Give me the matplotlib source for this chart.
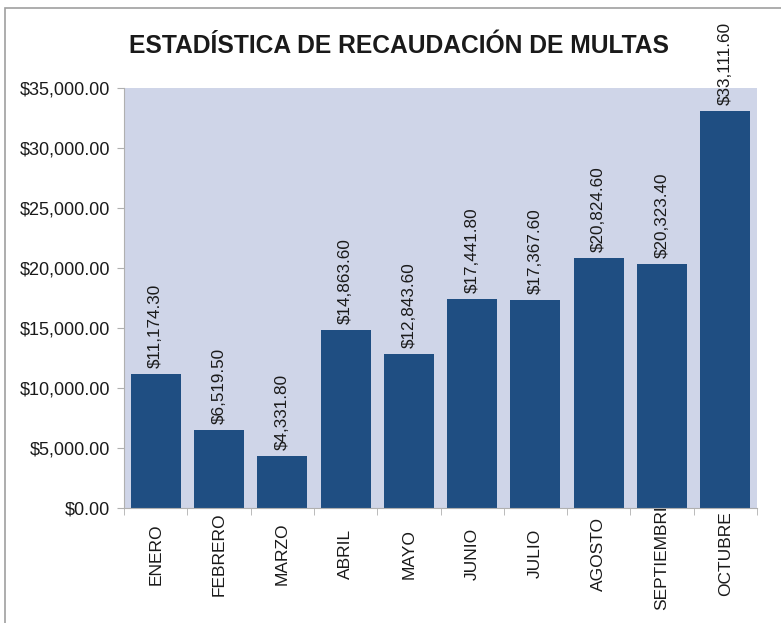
import matplotlib
matplotlib.use("Agg")
import matplotlib.pyplot as plt
from matplotlib.patches import Rectangle
from matplotlib.ticker import FuncFormatter, FixedLocator

months = ["ENERO", "FEBRERO", "MARZO", "ABRIL", "MAYO", "JUNIO",
          "JULIO", "AGOSTO", "SEPTIEMBRE", "OCTUBRE"]
amounts = [11174.30, 6519.50, 4331.80, 14863.60, 12843.60, 17441.80,
           17367.60, 20824.60, 20323.40, 33111.60]
y_ticks = [0, 5000, 10000, 15000, 20000, 25000, 30000, 35000]

plt.rcParams['font.family'] = ['Liberation Sans', 'DejaVu Sans']

fig = plt.figure(figsize=(7.81, 6.23), dpi=100)
ax = fig.add_axes([124 / 781, 115 / 623, 633 / 781, 420 / 623])

# outer chart frame
fig.patches.append(Rectangle((5 / 781, -0.1), 1.2, 1 - 8 / 623 + 0.1,
                             transform=fig.transFigure, fill=False,
                             edgecolor='#a0a0a0', linewidth=1.2))

bar_color = '#1f4e82'
ax.set_facecolor('#cfd5e8')
x = range(len(months))
ax.bar(x, amounts, width=0.79, color=bar_color, zorder=2)

for xi, v in zip(x, amounts):
    ax.text(xi, v + 500, "${:,.2f}".format(v), rotation=90, ha='center',
            va='bottom', fontsize=12.3, color='#1a1a1a', clip_on=False)

ax.set_xlim(-0.5, len(months) - 0.5)
ax.set_ylim(0, 35000)
ax.set_yticks(y_ticks)
ax.yaxis.set_major_formatter(FuncFormatter(lambda v, p: "${:,.2f}".format(v)))
ax.set_xticks(list(x))
ax.set_xticklabels(months, rotation=90, fontsize=12.5, color='#1a1a1a', va='center')
ax.tick_params(axis='x', length=0, pad=33)
ax.xaxis.set_minor_locator(FixedLocator([i - 0.5 for i in range(len(months) + 1)]))
ax.tick_params(axis='x', which='minor', length=5, color='#b0b0b0')
ax.tick_params(axis='y', labelsize=13, labelcolor='#1a1a1a', length=5,
               color='#b0b0b0', pad=5)

for side in ['top', 'right']:
    ax.spines[side].set_visible(False)
for side in ['left', 'bottom']:
    ax.spines[side].set_color('#b0b0b0')

fig.text(399 / 781, 1 - 46 / 623, "ESTADÍSTICA DE RECAUDACIÓN DE MULTAS",
         ha='center', va='center', fontsize=17.7, fontweight='bold',
         color='#1a1a1a')

fig.savefig("out.png", dpi=100)
